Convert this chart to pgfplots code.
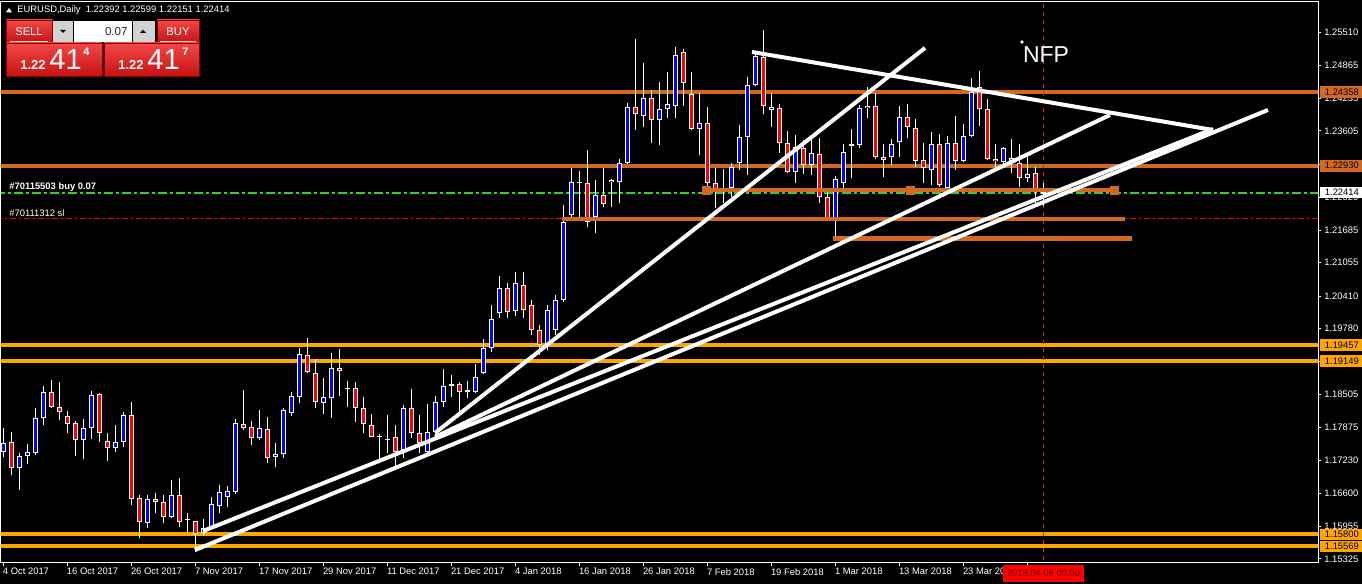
\documentclass[border=0pt]{standalone}
\usepackage{fontspec}
\setmainfont{Liberation Sans}
\usepackage{pgfplots}
\pgfplotsset{compat=1.18}
\usepackage{pgfplotstable}
\definecolor{choc}{RGB}{210,105,30}
\definecolor{org}{RGB}{255,165,0}
\definecolor{lgreen}{RGB}{50,205,50}
\definecolor{cblue}{RGB}{0,0,255}
\definecolor{cred}{RGB}{255,0,0}
\definecolor{pnlTop}{RGB}{240,72,72}
\definecolor{pnlBot}{RGB}{200,18,18}
\definecolor{pnlBrd}{RGB}{140,0,0}
\newcommand\tk{\fontsize{4.7pt}{5pt}\selectfont}

\pgfplotstableread{
i o h l c
0 1.17399 1.17852 1.17302 1.17562
1 1.17581 1.17774 1.16949 1.17078
2 1.17078 1.17368 1.16658 1.17322
3 1.17322 1.17548 1.17161 1.17388
4 1.17368 1.18239 1.17335 1.18045
5 1.18045 1.18670 1.17916 1.18560
6 1.18560 1.18786 1.18250 1.18269
7 1.18258 1.18741 1.18012 1.18173
8 1.18095 1.18186 1.17767 1.17929
9 1.17948 1.17993 1.17316 1.17625
10 1.17625 1.18026 1.17258 1.17852
11 1.17852 1.18573 1.17645 1.18496
12 1.18509 1.18534 1.17593 1.17767
13 1.17612 1.17755 1.17225 1.17465
14 1.17465 1.17916 1.17399 1.17581
15 1.17581 1.18161 1.17496 1.18109
16 1.18109 1.18355 1.16368 1.16479
17 1.16498 1.16562 1.15724 1.16045
18 1.16026 1.16562 1.15918 1.16479
19 1.16479 1.16595 1.16219 1.16421
20 1.16421 1.16562 1.16026 1.16142
21 1.16142 1.16852 1.16111 1.16562
22 1.16562 1.16885 1.15949 1.16045
23 1.16092 1.16219 1.15821 1.16078
24 1.16059 1.16065 1.15465 1.15807
25 1.15821 1.16092 1.15788 1.15918
26 1.15918 1.16517 1.15885 1.16388
27 1.16355 1.16755 1.16208 1.16614
28 1.16529 1.16736 1.16335 1.16639
29 1.16614 1.18026 1.16581 1.17948
30 1.17929 1.18592 1.17819 1.17863
31 1.17883 1.17993 1.17529 1.17670
32 1.17670 1.18206 1.17625 1.17852
33 1.17832 1.18064 1.17186 1.17283
34 1.17302 1.17562 1.17097 1.17349
35 1.17349 1.18250 1.17283 1.18200
36 1.18153 1.18548 1.18095 1.18471
37 1.18463 1.19399 1.18347 1.19283
38 1.19269 1.19592 1.18915 1.18946
39 1.18915 1.19186 1.18250 1.18366
40 1.18347 1.18819 1.18128 1.18451
41 1.18444 1.19302 1.18057 1.19012
42 1.19012 1.19380 1.18482 1.18966
43 1.18625 1.18766 1.18269 1.18606
44 1.18625 1.18741 1.17979 1.18239
45 1.18239 1.18451 1.17767 1.17929
46 1.17910 1.18128 1.17674 1.17689
47 1.17697 1.17741 1.17239 1.17689
48 1.17651 1.18109 1.17368 1.17631
49 1.17678 1.17916 1.17109 1.17388
50 1.17432 1.18302 1.17272 1.18239
51 1.18239 1.18612 1.17658 1.17755
52 1.17755 1.18109 1.17368 1.17562
53 1.17399 1.18322 1.17368 1.17786
54 1.17786 1.18476 1.17689 1.18366
55 1.18366 1.18999 1.18269 1.18676
56 1.18676 1.18883 1.18463 1.18703
57 1.18703 1.18753 1.18142 1.18560
58 1.18587 1.18766 1.18432 1.18560
59 1.18560 1.19095 1.18529 1.18850
60 1.18927 1.19573 1.18902 1.19399
61 1.19399 1.20236 1.19333 1.19960
62 1.20076 1.20797 1.19991 1.20559
63 1.20559 1.20668 1.19991 1.20107
64 1.20126 1.20869 1.20024 1.20656
65 1.20623 1.20875 1.19985 1.20140
66 1.20236 1.20333 1.19656 1.19753
67 1.19753 1.19850 1.19269 1.19463
68 1.19463 1.20236 1.19366 1.20140
69 1.19753 1.20430 1.19656 1.20333
70 1.20333 1.22170 1.20294 1.21847
71 1.21977 1.22880 1.21944 1.22621
72 1.22609 1.22828 1.21944 1.22590
73 1.22590 1.23234 1.21751 1.21847
74 1.21944 1.22654 1.21635 1.22364
75 1.22364 1.22880 1.22137 1.22190
76 1.22654 1.22673 1.22126 1.22609
77 1.22609 1.23060 1.22215 1.22977
78 1.22977 1.24137 1.22963 1.24071
79 1.24071 1.25381 1.23621 1.23924
80 1.23897 1.24911 1.23685 1.24234
81 1.24234 1.24394 1.23364 1.23814
82 1.23814 1.24555 1.23331 1.24021
83 1.24021 1.24748 1.23859 1.24118
84 1.24091 1.25220 1.23847 1.25071
85 1.25124 1.25187 1.24085 1.24524
86 1.24311 1.24748 1.23621 1.23640
87 1.23640 1.24331 1.23137 1.23750
88 1.23750 1.24060 1.22524 1.22602
89 1.22602 1.22880 1.22107 1.22460
90 1.22499 1.22867 1.22209 1.22480
91 1.22493 1.22977 1.22331 1.22911
92 1.22977 1.23718 1.22847 1.23491
93 1.23491 1.24652 1.22751 1.24491
94 1.24491 1.25135 1.24472 1.25052
95 1.25038 1.25555 1.23924 1.24091
96 1.24008 1.24331 1.23685 1.24060
97 1.24041 1.24124 1.23182 1.23364
98 1.23364 1.23601 1.22795 1.22814
99 1.22814 1.23524 1.22590 1.23286
100 1.23267 1.23427 1.22770 1.22944
101 1.22944 1.23460 1.22751 1.23170
102 1.23151 1.23472 1.22203 1.22319
103 1.22319 1.22460 1.21880 1.21913
104 1.21913 1.22731 1.21557 1.22667
105 1.22602 1.23344 1.22493 1.23201
106 1.23311 1.23640 1.22687 1.23344
107 1.23331 1.24104 1.23267 1.24041
108 1.24041 1.24447 1.23847 1.24091
109 1.24091 1.24331 1.23054 1.23093
110 1.23093 1.23350 1.22718 1.23041
111 1.23104 1.23447 1.22944 1.23344
112 1.23383 1.24085 1.23104 1.23878
113 1.23878 1.24124 1.23460 1.23673
114 1.23654 1.23834 1.22911 1.23027
115 1.23041 1.23364 1.22590 1.22880
116 1.22847 1.23588 1.22557 1.23344
117 1.23344 1.23543 1.22524 1.22557
118 1.22493 1.23505 1.22460 1.23364
119 1.23364 1.23892 1.22847 1.23021
120 1.23021 1.23737 1.23008 1.23511
121 1.23511 1.24621 1.23480 1.24362
122 1.24458 1.24762 1.23698 1.24021
123 1.24021 1.24215 1.23041 1.23060
124 1.23066 1.23350 1.22814 1.23021
125 1.23008 1.23298 1.22880 1.23267
126 1.23074 1.23447 1.22783 1.23008
127 1.22988 1.23350 1.22524 1.22687
128 1.22687 1.23137 1.22621 1.22764
129 1.22783 1.22911 1.22209 1.22460
130 1.22392 1.22599 1.22151 1.22414
}\candles

\begin{document}
\begin{tikzpicture}
\path[use as bounding box] (0,0) rectangle (681pt,292pt);
\fill[black] (0,0) rectangle (681pt,292pt);
\begin{axis}[
  at={(0.5pt,10.5pt)}, anchor=south west,
  scale only axis, width=658.5pt, height=280.5pt,
  xmin=-0.325, xmax=164.3, ymin=1.15247, ymax=1.26096,
  axis line style={white, line width=0.5pt},
  clip mode=individual,
  ytick pos=right, yticklabel pos=right, xtick pos=bottom,
  tick align=outside, major tick length=1.5pt,
  tick style={white, line width=0.5pt},
  ytick={1.15325,1.15955,1.16600,1.17230,1.17875,1.18505,1.19150,1.19780,1.20410,1.21055,1.21685,1.22320,1.22960,1.23605,1.24235,1.24865,1.25510},
  yticklabels={1.15325,1.15955,1.16600,1.17230,1.17875,1.18505,,1.19780,1.20410,1.21055,1.21685,1.22320,,1.23605,1.24235,1.24865,1.25510},
  xtick={0,8,16,24,32,40,48,56,64,72,80,88,96,104,112,120,128},
  xticklabels={4 Oct 2017,16 Oct 2017,26 Oct 2017,7 Nov 2017,17 Nov 2017,29 Nov 2017,11 Dec 2017,21 Dec 2017,4 Jan 2018,16 Jan 2018,26 Jan 2018,7 Feb 2018,19 Feb 2018,1 Mar 2018,13 Mar 2018,23 Mar 20,},
  ticklabel style={font=\tk, text=white, inner sep=0pt},
  xticklabel style={anchor=north west, xshift=-0.5pt, yshift=-1pt},
  yticklabel style={anchor=west, xshift=1.5pt},
]
% horizontal levels
\addplot[choc, line width=2pt] coordinates {(-1,1.24358) (170,1.24358)};
\addplot[choc, line width=2pt] coordinates {(-1,1.22930) (170,1.22930)};
\addplot[org, line width=2pt] coordinates {(-1,1.19457) (170,1.19457)};
\addplot[org, line width=2pt] coordinates {(-1,1.19149) (170,1.19149)};
\addplot[org, line width=2pt] coordinates {(-1,1.15800) (170,1.15800)};
\addplot[org, line width=2pt] coordinates {(-1,1.15569) (170,1.15569)};
\addplot[lgreen, line width=1pt, dash pattern=on 4.5pt off 1.5pt on 1.5pt off 1.5pt] coordinates {(-1,1.22405) (170,1.22405)};
\addplot[cred, line width=0.5pt, dash pattern=on 3pt off 1.5pt on 1pt off 1.5pt] coordinates {(-1,1.21900) (170,1.21900)};
\addplot[cred!70!gray, line width=0.5pt, dash pattern=on 2pt off 2pt] coordinates {(130,1.15) (130,1.27)};
% candles: wicks
\addplot[white, line width=0.5pt, mark=none, quiver={u=0, v=\thisrow{h}-\thisrow{l}, every arrow/.append style={-}}] table[x=i, y=l] {\candles};
% candle bodies (outline)
\addplot[white, line width=2.5pt, mark=none, quiver={u=0, v={max(abs(\thisrow{c}-\thisrow{o}),0.0002)}, every arrow/.append style={-}}] table[x=i, y expr={min(\thisrow{o},\thisrow{c})}] {\candles};
% bull bodies
\addplot[cblue, line width=1.5pt, mark=none, restrict expr to domain={\thisrow{c}-\thisrow{o}}{0.000001:1}, quiver={u=0, v={max(\thisrow{c}-\thisrow{o}-0.00039,0)}, every arrow/.append style={-}}] table[x=i, y expr={\thisrow{o}+0.000194}] {\candles};
% bear bodies
\addplot[cred, line width=1.5pt, mark=none, restrict expr to domain={\thisrow{c}-\thisrow{o}}{-1:-0.000001}, quiver={u=0, v={max(\thisrow{o}-\thisrow{c}-0.00039,0)}, every arrow/.append style={-}}] table[x=i, y expr={\thisrow{c}+0.000194}] {\candles};
% drawn support segments
\addplot[choc, line width=2.2pt] coordinates {(87.4,1.22460) (139.2,1.22460)};
\addplot[choc, line width=2.2pt] coordinates {(69.8,1.21894) (140.2,1.21894)};
\addplot[choc, line width=2.2pt] coordinates {(103.7,1.21526) (141.0,1.21526)};
\addplot[only marks, mark=square*, mark size=2pt, choc] coordinates {(87.9,1.22460) (113.3,1.22460) (138.9,1.22460)};
% trend lines
\addplot[white, line width=2pt] coordinates {(24.925,1.15865) (151.18,1.23640)};
\addplot[white, line width=2pt] coordinates {(23.925,1.15498) (158.05,1.24008)};
\addplot[white, line width=2pt] coordinates {(53.93,1.17683) (138.30,1.23911)};
\addplot[white, line width=2pt] coordinates {(53.93,1.17761) (115.18,1.25207)};
\addplot[white, line width=2pt] coordinates {(93.55,1.25129) (151.18,1.23621)};
% NFP
\node[white, font=\fontsize{11.5pt}{12pt}\selectfont, inner sep=0pt] at (axis cs:130.3,1.25071) {NFP};
\fill[white] (axis cs:127.3,1.25323) circle (0.9pt);
\coordinate (R1) at (axis cs:164.3,1.24358);
\coordinate (R2) at (axis cs:164.3,1.22930);
\coordinate (R3) at (axis cs:164.3,1.22414);
\coordinate (R4) at (axis cs:164.3,1.19457);
\coordinate (R5) at (axis cs:164.3,1.19149);
\coordinate (R6) at (axis cs:164.3,1.15800);
\coordinate (R7) at (axis cs:164.3,1.15569);
\end{axis}
% right boxed labels
\tikzset{rbox/.style={anchor=west, xshift=1pt, minimum width=21.5pt, minimum height=5.8pt, inner sep=0pt, font=\tk, text=black}}
\node[rbox, fill=choc] at (R1) {1.24358};
\node[rbox, fill=choc] at (R2) {1.22930};
\node[rbox, fill=white] at (R3) {1.22414};
\node[rbox, fill=org] at (R4) {1.19457};
\node[rbox, fill=org] at (R5) {1.19149};
\node[rbox, fill=org] at (R6) {1.15800};
\node[rbox, fill=org] at (R7) {1.15569};
\begin{scope}[shift={(0pt,292pt)}, x=0.5pt, y=-0.5pt]
% header
\fill[white] (6,12.5) -- (12,12.5) -- (9,8) -- cycle;
\node[anchor=west, inner sep=0pt, text=white, font=\tk] at (17,10) {EURUSD,Daily\ \ 1.22392 1.22599 1.22151 1.22414};
% order labels
\node[anchor=west, inner sep=0pt, text=white, font=\tk\bfseries] at (9,187) {\#70115503 buy 0.07};
\node[anchor=west, inner sep=0pt, text=white, font=\tk] at (9,213) {\#70111312 sl};
% SELL / BUY panel
\shade[top color=pnlTop, bottom color=pnlBot, draw=pnlBrd, line width=0.4pt] (6,20) rectangle (52,42);
\shade[top color=pnlTop, bottom color=pnlBot, draw=pnlBrd, line width=0.4pt] (157,20) rectangle (199,42);
\draw[white!80!red, line width=0.4pt] (10,41) -- (48,41);
\draw[white!80!red, line width=0.4pt] (160,41) -- (196,41);
\shade[top color=pnlTop, bottom color=pnlBot, draw=pnlBrd, line width=0.4pt] (6,43) rectangle (102,76);
\shade[top color=pnlTop, bottom color=pnlBot, draw=pnlBrd, line width=0.4pt] (104,43) rectangle (199,76);
\node[text=white, inner sep=0pt, font=\fontsize{5.6pt}{6pt}\selectfont] at (29,31.5) {SELL};
\node[text=white, inner sep=0pt, font=\fontsize{5.6pt}{6pt}\selectfont] at (178,31.5) {BUY};
\fill[gray!35] (53,21) rectangle (73,42);
\fill[white] (74,21) rectangle (132,42);
\fill[gray!35] (133,21) rectangle (155,42);
\fill[black] (60,30) -- (66,30) -- (63,33) -- cycle;
\fill[black] (140,33) -- (146,33) -- (143,30) -- cycle;
\node[anchor=east, inner sep=0pt, text=black!85, font=\fontsize{5.8pt}{6pt}\selectfont] at (128,31.5) {0.07};
\node[anchor=base west, inner sep=0pt, text=white, font=\fontsize{6.5pt}{7pt}\selectfont\bfseries] at (20,70) {1.22};
\node[anchor=base west, inner sep=0pt, text=white, font=\fontsize{14.5pt}{15pt}\selectfont] at (49,70) {41};
\node[anchor=base west, inner sep=0pt, text=white, font=\fontsize{5.5pt}{6pt}\selectfont\bfseries] at (83,56) {4};
\node[anchor=base west, inner sep=0pt, text=white, font=\fontsize{6.5pt}{7pt}\selectfont\bfseries] at (118,70) {1.22};
\node[anchor=base west, inner sep=0pt, text=white, font=\fontsize{14.5pt}{15pt}\selectfont] at (147,70) {41};
\node[anchor=base west, inner sep=0pt, text=white, font=\fontsize{5.5pt}{6pt}\selectfont\bfseries] at (182,56) {7};
% current time label
\fill[cred] (1003,565) rectangle (1084,582);
\node[inner sep=0pt, text={rgb,255:red,110;green,0;blue,0}, font=\tk] at (1043.5,573.5) {2018.04.06 00:00};
\end{scope}
\end{tikzpicture}
\end{document}
